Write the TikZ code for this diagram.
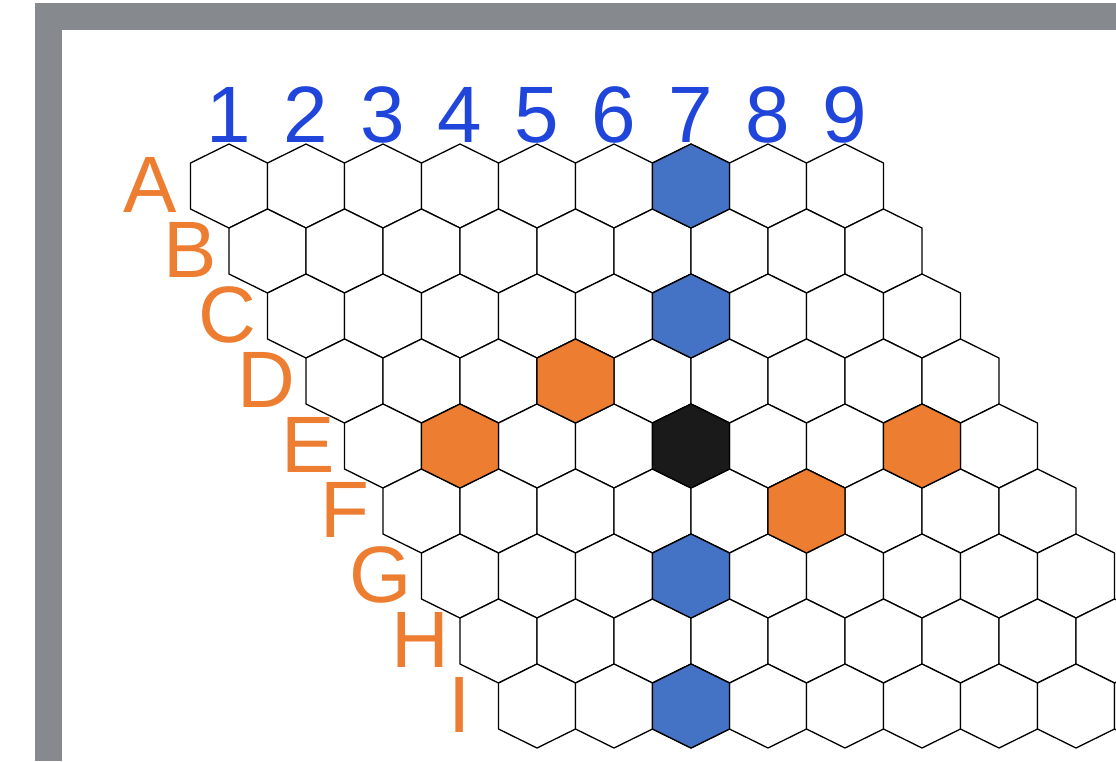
\documentclass[tikz,border=0pt]{standalone}
\usepackage{fontspec}
\setmainfont{Liberation Sans}
\definecolor{framegray}{RGB}{134,137,142}
\definecolor{hexblue}{RGB}{68,114,196}
\definecolor{hexorange}{RGB}{237,125,49}
\definecolor{hexblack}{RGB}{26,26,26}
\definecolor{numblue}{RGB}{31,69,219}
\definecolor{letterorange}{RGB}{237,125,49}
\tikzset{
  hexa/.pic={\path[pic actions] (0,-42)--(38.5,-23)--(38.5,23)--(0,42)--(-38.5,23)--(-38.5,-23)--cycle;},
  hexline/.style={draw=black,line width=1.3pt,line join=miter},
  collabel/.style={text=numblue,anchor=base,inner sep=0pt,font=\fontsize{80}{80}\selectfont},
  rowlabel/.style={text=letterorange,anchor=base,inner sep=0pt,font=\fontsize{80}{80}\selectfont}
}
\begin{document}
\begin{tikzpicture}[x=1pt,y=-1pt]
\useasboundingbox (0,0) rectangle (1116,761);
\clip (0,0) rectangle (1116,761);
% frame
\fill[framegray] (35,3) rectangle (1116,761);
\fill[white] (61.5,30) rectangle (1116,761);
% grid
\foreach \r in {0,...,8}{
  \foreach \c in {0,...,8}{
    \pic[hexline,fill=white] at ({229+77*\c+38.5*\r},{186+65*\r}) {hexa};
  }
}
% coloured cells: list of row/col/colour
\foreach \r/\c/\col in {0/6/hexblue,2/5/hexblue,6/3/hexblue,8/2/hexblue,
                        3/3/hexorange,4/1/hexorange,4/7/hexorange,5/5/hexorange,
                        4/4/hexblack}{
  \pic[hexline,fill=\col] at ({229+77*\c+38.5*\r},{186+65*\r}) {hexa};
}
% column labels
\foreach \n in {1,...,9}{
  \node[collabel] (col\n) at ({229+77*(\n-1)},142) {\n};
}
% row labels
\foreach \L/\x [count=\k from 0] in {A/150,B/190,C/227,D/266,E/308,F/345,G/381,H/420,I/460}{
  \node[rowlabel] (row\L) at (\x,{212+65*\k}) {\L};
}
\end{tikzpicture}
\end{document}
